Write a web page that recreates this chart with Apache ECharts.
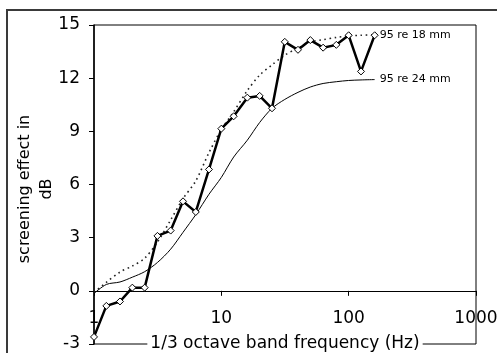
<!DOCTYPE html>
<html>
<head>
<meta charset="utf-8">
<script src="https://cdn.jsdelivr.net/npm/echarts@6/dist/echarts.min.js"></script>
<style>
html,body{margin:0;padding:0;background:#fff;}
#chart{width:497px;height:353px;}
</style>
</head>
<body>
<div id="chart"></div>
<script>
const freqs = [1, 1.25, 1.6, 2, 2.5, 3.15, 4, 5, 6.3, 8, 10, 12.5, 16, 20, 25, 31.5, 40, 50, 63, 80, 100, 125, 160];
const measured = [-2.6, -0.85, -0.6, 0.18, 0.18, 3.1, 3.4, 5.05, 4.45, 6.85, 9.15, 9.85, 10.9, 11.0, 10.3, 14.05, 13.6, 14.15, 13.72, 13.88, 14.42, 12.38, 14.42];
const re18 = [-0.1, 0.48, 1.06, 1.4, 1.84, 2.75, 4.0, 5.2, 6.2, 7.8, 9.1, 10.1, 11.3, 12.17, 12.75, 13.3, 13.7, 14.05, 14.17, 14.3, 14.38, 14.42, 14.45];
const re24 = [-0.15, 0.36, 0.5, 0.77, 1.08, 1.6, 2.35, 3.3, 4.3, 5.45, 6.4, 7.55, 8.5, 9.5, 10.3, 10.8, 11.2, 11.5, 11.7, 11.8, 11.87, 11.9, 11.92];
const seriesNames = ['95 re 18 mm', '95 re 24 mm', 'measured'];
const yTicks = {min: -3, max: 15, interval: 3};
const xRange = {min: 1, max: 1000};
const xTitle = '1/3 octave band frequency (Hz)';
const yTitle = 'screening effect in\ndB';

const pairs = (ys) => freqs.map((f, i) => [f, ys[i]]);
const FONT = 'DejaVu Sans';
const GRID = {left: 94, top: 25, right: 21, bottom: 9};
const plotH = 353 - GRID.top - GRID.bottom;
// shift the x axis up so that it crosses the y axis at 0
const xAxisOffset = -plotH * (0 - yTicks.min) / (yTicks.max - yTicks.min);

const chart = echarts.init(document.getElementById('chart'), null, {renderer: 'canvas'});
chart.setOption({
  animation: false,
  backgroundColor: '#fff',
  graphic: [
    {
      type: 'rect', z: 100, silent: true,
      shape: {x: 7, y: 10, width: 600, height: 500},
      style: {fill: 'none', stroke: '#3a3a3a', lineWidth: 2}
    },
    {
      type: 'text', silent: true, x: 35.5, y: 189, rotation: Math.PI / 2,
      style: {text: yTitle, fill: '#000', font: '16px "DejaVu Sans"', lineHeight: 22,
              align: 'center', verticalAlign: 'middle'}
    }
  ],
  grid: Object.assign({containLabel: false, outerBoundsMode: 'none',
         show: true, borderColor: '#000', borderWidth: 1, backgroundColor: 'transparent'}, GRID),
  xAxis: {
    type: 'log', logBase: 10, min: xRange.min, max: xRange.max,
    offset: xAxisOffset,
    axisLine: {onZero: false, lineStyle: {color: '#000', width: 1}},
    axisTick: {show: true, inside: false, length: 5, lineStyle: {color: '#000'}},
    minorTick: {show: false},
    splitLine: {show: false},
    axisLabel: {color: '#000', fontFamily: FONT, fontSize: 17, margin: 19, showMinLabel: true, showMaxLabel: true,
                formatter: (v) => String(Math.round(v))},
    name: xTitle, nameLocation: 'middle', nameGap: 44,
    nameTextStyle: {color: '#000', fontFamily: FONT, fontSize: 17, backgroundColor: '#fff', padding: [0, 3, 0, 3]}
  },
  yAxis: {
    type: 'value', min: yTicks.min, max: yTicks.max, interval: yTicks.interval,
    axisLine: {show: true, onZero: false, lineStyle: {color: '#000', width: 1.5}},
    axisTick: {show: true, inside: false, length: 5, lineStyle: {color: '#000'}},
    splitLine: {show: false},
    axisLabel: {color: '#000', fontFamily: FONT, fontSize: 17, margin: 14}
  },
  series: [
    {
      name: seriesNames[0], type: 'line', data: pairs(re18), smooth: 0.3, showSymbol: false, symbol: 'none',
      lineStyle: {color: '#222', width: 1.6, type: [1.6, 3.6]},
      endLabel: {show: true, formatter: seriesNames[0], color: '#000', fontFamily: FONT, fontSize: 11, distance: 5}
    },
    {
      name: seriesNames[1], type: 'line', data: pairs(re24), smooth: 0.3, showSymbol: false, symbol: 'none',
      lineStyle: {color: '#000', width: 1},
      endLabel: {show: true, formatter: seriesNames[1], color: '#000', fontFamily: FONT, fontSize: 11, distance: 5}
    },
    {
      name: seriesNames[2], type: 'line', data: pairs(measured), smooth: false,
      symbol: 'diamond', symbolSize: 7, showSymbol: true,
      itemStyle: {color: '#fff', borderColor: '#000', borderWidth: 1},
      lineStyle: {color: '#000', width: 2.5}, z: 5
    }
  ]
});
</script>
</body>
</html>
